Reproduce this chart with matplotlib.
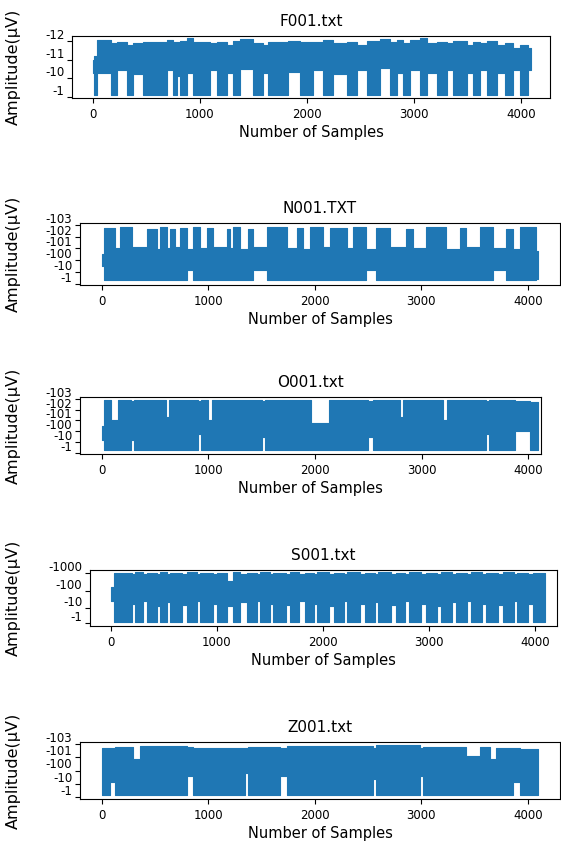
import numpy as np
import matplotlib
matplotlib.use("Agg")
import matplotlib.pyplot as plt
import matplotlib.transforms as mtransforms

# -------------------------------------------------------------
# Data.
# Each signal is described as segments: a segment starts at a sample
# index and the blue trace fills the band [low, high] (fraction of the
# y-range) until the next segment starts.
# -------------------------------------------------------------
n_samples = 4097

titles = ["F001.txt", "N001.TXT", "O001.txt", "S001.txt", "Z001.txt"]

f001_labels = ["-12", "-11", "-10", "-1"]
n001_labels = ["-103", "-102", "-101", "-100", "-10", "-1"]
o001_labels = ["-103", "-102", "-101", "-100", "-10", "-1"]
s001_labels = ["-1000", "-100", "-10", "-1"]
z001_labels = ["-103", "-101", "-100", "-10", "-1"]

f001_start = [0, 12, 34, 168, 221, 315, 377, 470, 688, 750, 782, 813, 875, 938, 1093,
              1156, 1249, 1312, 1374, 1498, 1592, 1639, 1826, 1935, 2059, 2153, 2246,
              2370, 2464, 2558, 2682, 2776, 2838, 2900, 2963, 3056, 3118, 3212, 3305,
              3368, 3492, 3555, 3617, 3679, 3773, 3854, 3928, 3990, 4068]
f001_low = [0.40, 0.05, 0.40, 0.05, 0.45, 0.05, 0.38, 0.05, 0.45, 0.05,
            0.35, 0.05, 0.40, 0.05, 0.45, 0.05, 0.40, 0.05, 0.47, 0.05,
            0.40, 0.05, 0.42, 0.05, 0.45, 0.05, 0.38, 0.05, 0.45, 0.05,
            0.48, 0.05, 0.40, 0.05, 0.45, 0.05, 0.40, 0.05, 0.45, 0.05,
            0.40, 0.05, 0.45, 0.05, 0.40, 0.05, 0.45, 0.05, 0.45]
f001_high = [0.62, 0.68, 0.94, 0.88, 0.90, 0.85, 0.88, 0.90, 0.93, 0.90,
             0.90, 0.92, 0.97, 0.90, 0.88, 0.90, 0.85, 0.92, 0.95, 0.88,
             0.85, 0.90, 0.92, 0.90, 0.90, 0.93, 0.88, 0.90, 0.85, 0.92,
             0.95, 0.90, 0.93, 0.88, 0.93, 0.97, 0.88, 0.90, 0.88, 0.92,
             0.85, 0.90, 0.88, 0.92, 0.85, 0.88, 0.80, 0.85, 0.80]

n001_start = [0, 22, 125, 172, 281, 422, 516, 547, 609, 641, 688, 734, 797, 859, 922,
              984, 1047, 1172, 1203, 1234, 1297, 1375, 1422, 1547, 1734, 1828, 1891,
              1953, 2078, 2141, 2297, 2359, 2484, 2578, 2703, 2859, 2922, 3047, 3234,
              3359, 3422, 3547, 3672, 3797, 3859, 3922, 4078]
n001_low = [0.30, 0.08, 0.08, 0.08, 0.08, 0.08, 0.08, 0.08, 0.08, 0.08,
            0.08, 0.08, 0.25, 0.08, 0.08, 0.08, 0.08, 0.08, 0.08, 0.08,
            0.08, 0.08, 0.25, 0.08, 0.08, 0.08, 0.08, 0.08, 0.08, 0.08,
            0.08, 0.08, 0.25, 0.08, 0.08, 0.08, 0.08, 0.08, 0.08, 0.08,
            0.08, 0.08, 0.25, 0.08, 0.08, 0.08, 0.10]
n001_high = [0.50, 0.92, 0.60, 0.93, 0.62, 0.91, 0.58, 0.93, 0.60, 0.90,
             0.62, 0.92, 0.58, 0.93, 0.60, 0.92, 0.62, 0.90, 0.60, 0.93,
             0.58, 0.90, 0.62, 0.94, 0.60, 0.92, 0.58, 0.93, 0.62, 0.92,
             0.60, 0.93, 0.58, 0.92, 0.62, 0.90, 0.60, 0.93, 0.58, 0.92,
             0.62, 0.93, 0.60, 0.90, 0.58, 0.93, 0.55]

o001_start = [0, 20, 90, 150, 270, 300, 600, 630, 900, 930, 1000, 1030, 1500, 1530,
              1960, 2130, 2500, 2540, 2800, 2830, 3200, 3240, 3600, 3630, 3880, 4020]
o001_low = [0.25, 0.07, 0.07, 0.07, 0.25, 0.07, 0.07, 0.07, 0.35, 0.07,
            0.07, 0.07, 0.30, 0.07, 0.07, 0.07, 0.30, 0.07, 0.07, 0.07,
            0.07, 0.07, 0.35, 0.07, 0.40, 0.07]
o001_high = [0.50, 0.95, 0.60, 0.94, 0.93, 0.95, 0.65, 0.94, 0.93, 0.95,
             0.60, 0.94, 0.93, 0.95, 0.55, 0.94, 0.93, 0.95, 0.65, 0.94,
             0.60, 0.95, 0.93, 0.94, 0.93, 0.92]

s001_start = [0, 30, 198, 230, 308, 340, 434, 465, 528, 560, 670, 717, 811, 843, 968,
              1000, 1094, 1157, 1220, 1283, 1377, 1408, 1503, 1535, 1650, 1690, 1780,
              1830, 1920, 1950, 2060, 2110, 2200, 2230, 2350, 2400, 2490, 2520, 2640,
              2690, 2780, 2810, 2930, 2970, 3080, 3120, 3220, 3260, 3360, 3400, 3500,
              3540, 3650, 3700, 3800, 3830, 3940, 3980]
s001_low = [0.45, 0.07, 0.40, 0.07, 0.45, 0.07, 0.35, 0.07, 0.42, 0.07,
            0.38, 0.07, 0.45, 0.07, 0.40, 0.07, 0.35, 0.07, 0.42, 0.07,
            0.45, 0.07, 0.40, 0.07, 0.38, 0.07, 0.45, 0.07, 0.40, 0.07,
            0.35, 0.07, 0.45, 0.07, 0.40, 0.07, 0.42, 0.07, 0.38, 0.07,
            0.45, 0.07, 0.40, 0.07, 0.35, 0.07, 0.42, 0.07, 0.45, 0.07,
            0.40, 0.07, 0.38, 0.07, 0.45, 0.07, 0.40, 0.07]
s001_high = [0.70, 0.95, 0.93, 0.96, 0.92, 0.95, 0.93, 0.97, 0.92, 0.95,
             0.93, 0.96, 0.92, 0.95, 0.93, 0.95, 0.80, 0.96, 0.92, 0.95,
             0.93, 0.96, 0.92, 0.95, 0.93, 0.97, 0.92, 0.95, 0.93, 0.96,
             0.92, 0.95, 0.93, 0.96, 0.92, 0.95, 0.93, 0.97, 0.92, 0.95,
             0.93, 0.96, 0.92, 0.95, 0.93, 0.96, 0.92, 0.95, 0.93, 0.97,
             0.92, 0.95, 0.93, 0.96, 0.92, 0.95, 0.93, 0.95]

z001_start = [0, 78, 125, 297, 360, 797, 859, 1344, 1375, 1672, 1734, 2547, 2578,
              2984, 3016, 3422, 3547, 3640, 3700, 3859, 3922]
z001_low = [0.07, 0.30, 0.07, 0.07, 0.07, 0.40, 0.07, 0.45, 0.07, 0.40,
            0.07, 0.35, 0.07, 0.40, 0.07, 0.07, 0.07, 0.07, 0.07, 0.30, 0.07]
z001_high = [0.90, 0.90, 0.92, 0.70, 0.93, 0.92, 0.90, 0.90, 0.92, 0.90,
             0.93, 0.90, 0.94, 0.90, 0.92, 0.75, 0.92, 0.70, 0.90, 0.90, 0.88]

# tick positions (fraction of y-range) for the overlapping category labels
f001_ticks = [0.92, 0.62, 0.32, 0.02]
n001_ticks = [0.97, 0.78, 0.59, 0.40, 0.21, 0.02]
o001_ticks = [0.97, 0.78, 0.59, 0.40, 0.21, 0.02]
s001_ticks = [0.95, 0.63, 0.33, 0.05]
z001_ticks = [0.96, 0.73, 0.50, 0.27, 0.04]

# -------------------------------------------------------------
# Layout (pixels in a 561 x 842 figure): left, right, top, bottom, xlim
# -------------------------------------------------------------
W, H = 561, 842
boxes = [(72, 550, 36, 98), (80, 560, 223, 285), (80, 541, 397, 454),
         (90, 557, 570, 626), (80, 560, 742, 799)]
xlims = [(-196, 4271), (-205, 4301), (-205, 4120), (-195, 4210), (-205, 4301)]

panels = [
    (f001_start, f001_low, f001_high, f001_ticks, f001_labels),
    (n001_start, n001_low, n001_high, n001_ticks, n001_labels),
    (o001_start, o001_low, o001_high, o001_ticks, o001_labels),
    (s001_start, s001_low, s001_high, s001_ticks, s001_labels),
    (z001_start, z001_low, z001_high, z001_ticks, z001_labels),
]

blue = "#1f77b4"
fig = plt.figure(figsize=(W / 100, H / 100), dpi=100)

for i, (start, low, high, ticks, labels) in enumerate(panels):
    left, right, top, bottom = boxes[i]
    ax = fig.add_axes([left / W, 1 - bottom / H, (right - left) / W, (bottom - top) / H])

    x = np.append(start, n_samples - 1)
    lo = np.append(low, low[-1])
    hi = np.append(high, high[-1])
    ax.fill_between(x, lo, hi, step="post", color=blue, linewidth=0.8, edgecolor=blue)

    ax.set_xlim(*xlims[i])
    ax.set_ylim(0, 1)
    ax.set_xticks([0, 1000, 2000, 3000, 4000])
    ax.tick_params(axis="x", labelsize=8.5)
    ax.set_yticks(ticks)
    ax.set_yticklabels(labels, fontsize=8.5)
    ax.tick_params(axis="y", pad=2)
    shift = mtransforms.ScaledTranslation(0, 7 / 100, fig.dpi_scale_trans)
    for lab in ax.get_yticklabels():
        lab.set_transform(lab.get_transform() + shift)

    ax.set_title(titles[i], fontsize=11, pad=7)
    ax.set_xlabel("Number of Samples", fontsize=10.5, labelpad=3)
    ax.set_ylabel("Amplitude(μV)", fontsize=11.5)
    ax.yaxis.set_label_coords((21 - left) / (right - left), 0.5)

fig.savefig("out.png", dpi=100)
